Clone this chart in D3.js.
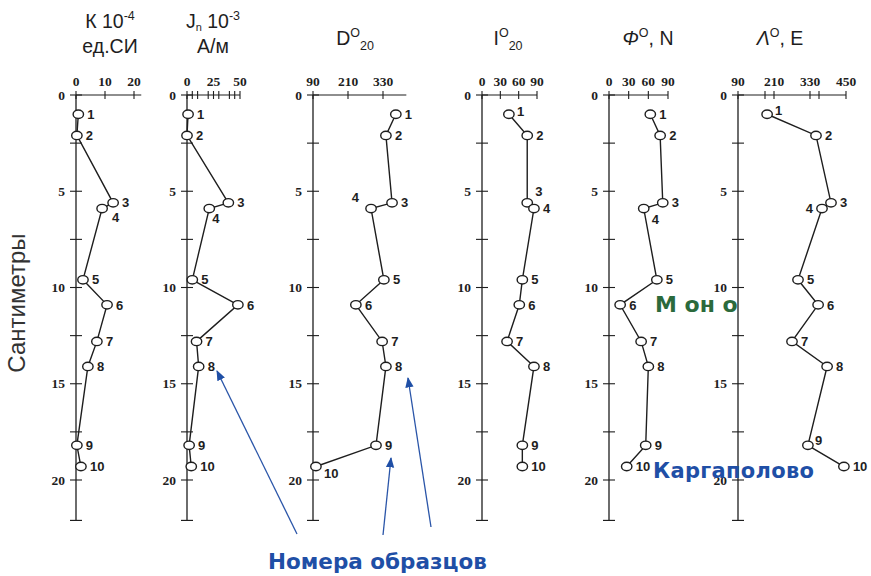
<!DOCTYPE html>
<html><head><meta charset="utf-8">
<script src="https://cdn.jsdelivr.net/npm/d3@7"></script>
<style>body{margin:0;background:#fff}svg{display:block}</style>
</head><body><svg id="c" width="871" height="576"></svg>
<script>
// ---- data ----
const samples = [1,2,3,4,5,6,7,8,9,10];
const depth   = [1.0, 2.1, 5.6, 5.9, 9.6, 10.9, 12.8, 14.1, 18.2, 19.3];
const K       = [0.8, 0.3, 12.8, 9.0, 2.4, 10.7, 7.2, 4.1, 0.3, 1.7];
const Jn      = [1, 0, 39, 21, 5, 48, 9, 11, 2, 4];
const D       = [374, 340, 361, 289, 333, 237, 327, 340, 306, 100];
const I       = [44, 74, 74, 85, 66, 61, 41, 85, 66, 66];
const Phi     = [63, 78, 82, 53, 73, 17, 49, 60, 56, 27];
const Lambda  = [187, 350, 400, 370, 290, 357, 270, 387, 323, 443];
const depthTicks = [0, 5, 10, 15, 20];
const depthMinor = [2.5, 7.5, 12.5, 17.5];
const kTicks = [0, 10, 20], jTicks = [0, 25, 50], dTicks = [90, 210, 330],
      iTicks = [0, 30, 60, 90], phiTicks = [0, 30, 60, 90], lTicks = [90, 210, 330, 450];

// ---- layout / style config ----
const panels = [
  {vals:K, ticks:kTicks, minor:[], dom:[0,20], rng:[76,134], end:22.5, lbl:{3:[10,9]}},
  {vals:Jn, ticks:jTicks, minor:[5,10,20,30,40,45], dom:[0,50], rng:[187,240], end:50, lbl:{3:[3,10]}},
  {vals:D, ticks:dTicks, minor:[], dom:[90,330], rng:[313,383], end:410, lbl:{3:[-12,-11,'end'],9:[8,7]}},
  {vals:I, ticks:iTicks, minor:[], dom:[0,90], rng:[482,537], end:90, lbl:{0:[8,-3],2:[8,-11]}},
  {vals:Phi, ticks:phiTicks, minor:[], dom:[0,90], rng:[609,668], end:90, lbl:{3:[8,11]}},
  {vals:Lambda, ticks:lTicks, minor:[180,360], dom:[90,450], rng:[738,846], end:450, lbl:{0:[8,-4],3:[-9,0,'end'],8:[7,-5]}}
];
const titles = [
  {x:110, parts:[['К 10',0],['-4',-1]], line2:'ед.СИ'},
  {x:213, parts:[['J',0],['n',2],[' 10',0],['-3',-1]], line2:'А/м'},
  {x:355, parts:[['D',0],['O',-1],['20',1]]},
  {x:508, parts:[['I',0],['O',-1],['20',1]]},
  {x:648, parts:[['Φ',0,'italic'],['O',-1],[', N',0]]},
  {x:780, parts:[['Λ',0,'italic'],['O',-1],[', E',0]]}
];

const svg = d3.select('#c');
const ink = '#1e1e1e';
const y = d3.scaleLinear().domain([0, 20]).range([95, 480]);
const yEnd = 22.1;

panels.forEach((p, pi) => {
  const x = d3.scaleLinear().domain(p.dom).range(p.rng);
  const ax = x(p.dom[0]);
  const g = svg.append('g');
  g.append('line').attr('x1',ax).attr('x2',ax).attr('y1',y(0)).attr('y2',y(yEnd))
    .attr('stroke',ink).attr('stroke-width',1.3);
  g.append('line').attr('x1',ax-6).attr('x2',ax+6).attr('y1',y(yEnd)).attr('y2',y(yEnd))
    .attr('stroke',ink).attr('stroke-width',1.2);
  depthTicks.concat(depthMinor).forEach(t => {
    g.append('line').attr('x1',ax-6).attr('x2',ax+6).attr('y1',y(t)).attr('y2',y(t))
      .attr('stroke',ink).attr('stroke-width',1.1);
  });
  depthTicks.forEach(t => {
    g.append('text').attr('x',ax-11).attr('y',y(t)).attr('dy','0.35em')
      .attr('text-anchor','end').attr('font-family','Liberation Serif').attr('font-weight','bold')
      .attr('font-size',13.5).attr('fill',ink).text(t);
  });
  g.append('line').attr('x1',ax).attr('x2',x(p.end)).attr('y1',y(0)).attr('y2',y(0))
    .attr('stroke',ink).attr('stroke-width',1.1);
  p.ticks.concat(p.minor).forEach(t => {
    g.append('line').attr('x1',x(t)).attr('x2',x(t)).attr('y1',y(0)-4).attr('y2',y(0)+4)
      .attr('stroke',ink).attr('stroke-width',1.1);
  });
  p.ticks.forEach(t => {
    g.append('text').attr('x',x(t)).attr('y',y(0)-9)
      .attr('text-anchor','middle').attr('font-family','Liberation Serif').attr('font-weight','bold')
      .attr('font-size',13.5).attr('fill',ink).text(t);
  });
  const pts = samples.map((s, i) => [x(p.vals[i]), y(depth[i])]);
  g.append('path').attr('d', d3.line()(pts)).attr('fill','none')
    .attr('stroke',ink).attr('stroke-width',1.4);
  pts.forEach((pt, i) => {
    g.append('ellipse').attr('cx',pt[0]).attr('cy',pt[1]).attr('rx',5.2).attr('ry',4.2)
      .attr('fill','#fff').attr('stroke',ink).attr('stroke-width',1.4);
    const o = p.lbl[i] || [9, 0];
    g.append('text').attr('x',pt[0]+o[0]).attr('y',pt[1]+o[1]).attr('dy','0.36em')
      .attr('text-anchor', o[2] || 'start').attr('font-family','Liberation Sans')
      .attr('font-weight','bold').attr('font-size',13).attr('fill',ink).text(samples[i]);
  });
});

titles.forEach(t => {
  const tx = svg.append('text').attr('x',t.x).attr('y', t.line2 ? 28 : 45)
    .attr('text-anchor','middle').attr('font-family','Liberation Sans')
    .attr('font-size',19.5).attr('fill',ink);
  let prev = 0;
  t.parts.forEach(pt => {
    const shift = pt[1] === -1 ? -8 : pt[1] === 1 ? 5 : pt[1] === 2 ? 2.5 : 0;
    tx.append('tspan').attr('dy', shift - prev)
      .attr('font-size', pt[1] === 0 ? 19.5 : pt[1] === 2 ? 11 : 12.5)
      .attr('font-style', pt[2] || null).text(pt[0]);
    prev = shift;
  });
  if (t.line2) {
    svg.append('text').attr('x',t.x).attr('y',53).attr('text-anchor','middle')
      .attr('font-family','Liberation Sans').attr('font-size',19.5).attr('fill',ink).text(t.line2);
  }
});

svg.append('text').attr('transform','translate(25,303) rotate(-90)')
  .attr('text-anchor','middle').attr('font-family','Liberation Sans')
  .attr('font-size',24).attr('fill','#333').text('Сантиметры');

svg.append('text').attr('x',655).attr('y',312).attr('font-family','DejaVu Sans')
  .attr('font-weight','bold').attr('font-size',22).attr('fill','#2b6a3c').text('М он о');
svg.append('text').attr('x',653).attr('y',478).attr('font-family','DejaVu Sans')
  .attr('font-weight','bold').attr('font-size',21).attr('letter-spacing',0.3)
  .attr('fill','#1f4fa6').text('Каргаполово');
svg.append('text').attr('x',268).attr('y',569).attr('font-family','DejaVu Sans')
  .attr('font-weight','bold').attr('font-size',21.5).attr('fill','#1f4fa6').text('Номера образцов');

const defs = svg.append('defs');
defs.append('marker').attr('id','ah').attr('viewBox','0 0 10 10').attr('refX',9).attr('refY',5)
  .attr('markerWidth',8).attr('markerHeight',8).attr('orient','auto-start-reverse')
  .append('path').attr('d','M0,1L10,5L0,9Z').attr('fill','#1f4fa6');
const arrows = [[[297,534],[217,371]], [[383,535],[391,458]], [[431,527],[408,378]]];
arrows.forEach(a => {
  svg.append('line').attr('x1',a[0][0]).attr('y1',a[0][1]).attr('x2',a[1][0]).attr('y2',a[1][1])
    .attr('stroke','#2a55a8').attr('stroke-width',1.3).attr('marker-end','url(#ah)');
});
</script></body></html>
